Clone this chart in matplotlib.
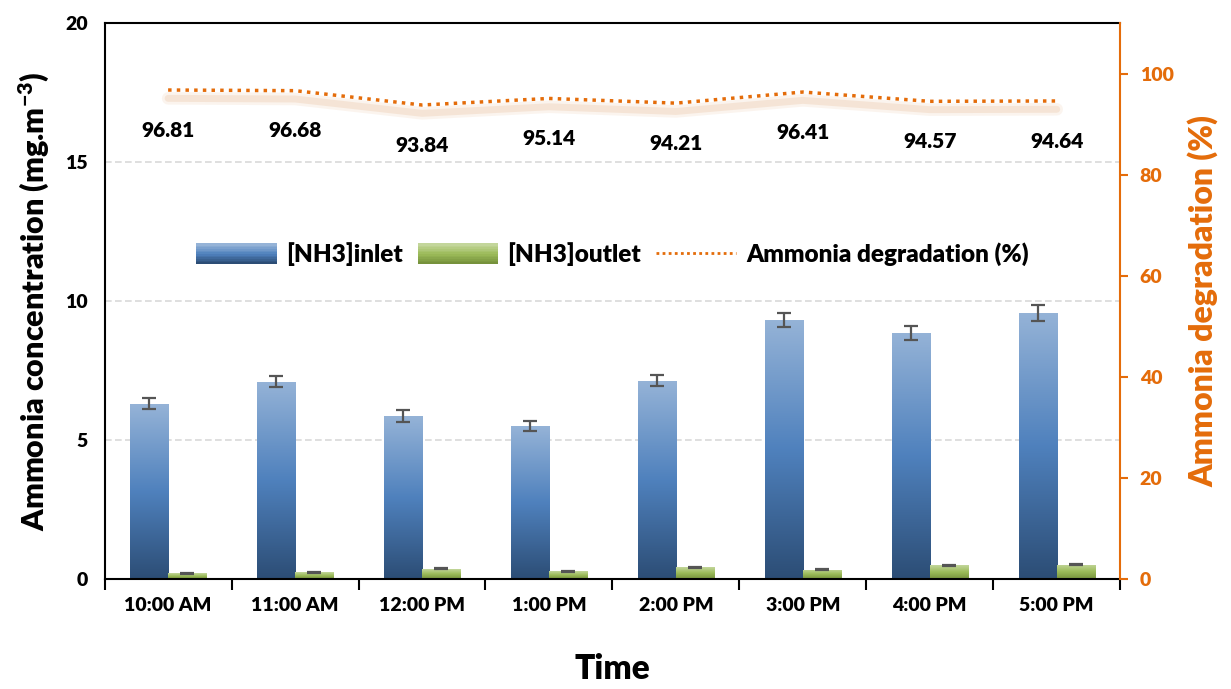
import numpy as np
import matplotlib.pyplot as plt
import matplotlib.transforms as mtransforms
from matplotlib.patches import Rectangle
from matplotlib.legend_handler import HandlerBase
from matplotlib.lines import Line2D
from matplotlib.colors import LinearSegmentedColormap

plt.rcParams['font.family'] = ['Lato', 'DejaVu Sans']
plt.rcParams['font.weight'] = 'heavy'
plt.rcParams['mathtext.fontset'] = 'custom'
plt.rcParams['mathtext.rm'] = 'Lato:heavy'
plt.rcParams['mathtext.bf'] = 'Lato:heavy'
plt.rcParams['mathtext.default'] = 'bf'

times = ['10:00 AM', '11:00 AM', '12:00 PM', '1:00 PM', '2:00 PM', '3:00 PM', '4:00 PM', '5:00 PM']
inlet = [6.30, 7.10, 5.86, 5.50, 7.13, 9.32, 8.86, 9.58]
inlet_err = [0.20, 0.20, 0.20, 0.18, 0.20, 0.25, 0.25, 0.28]
outlet = [0.20, 0.24, 0.36, 0.27, 0.41, 0.33, 0.48, 0.51]
outlet_err = [0.02, 0.02, 0.02, 0.02, 0.02, 0.02, 0.03, 0.03]
degradation = [96.81, 96.68, 93.84, 95.14, 94.21, 96.41, 94.57, 94.64]

ORANGE = '#E46C0A'
W = 'heavy'
blue_cmap = LinearSegmentedColormap.from_list('b', ['#2C4D75', '#4F81BD', '#95B3D7'])
green_cmap = LinearSegmentedColormap.from_list('g', ['#76923C', '#9BBB59', '#C3D69B'])


def gradient_bars(ax, bars, cmap):
    grad = np.linspace(0, 1, 256).reshape(-1, 1)
    for b in bars:
        x0, y0 = b.get_x(), b.get_y()
        w, h = b.get_width(), b.get_height()
        im = ax.imshow(grad, cmap=cmap, origin='lower', aspect='auto',
                       extent=[x0, x0 + w, y0, y0 + h], zorder=2)
        im.set_clip_path(b)
        b.set_facecolor('none')


class GradientHandler(HandlerBase):
    def __init__(self, cmap):
        super().__init__()
        self.cmap = cmap

    def create_artists(self, legend, orig_handle, xdescent, ydescent, width, height, fontsize, trans):
        n = 12
        arts = []
        for i in range(n):
            r = Rectangle((-xdescent, -ydescent + height * i / n), width, height / n + 0.3,
                          facecolor=self.cmap(i / (n - 1)), edgecolor='none', transform=trans)
            arts.append(r)
        return arts


fig = plt.figure(figsize=(12.31, 6.89), dpi=100)
ax = fig.add_axes([0.085, 0.16, 0.825, 0.806])
ax2 = ax.twinx()

x = np.arange(len(times))
w = 0.3
b1 = ax.bar(x - w / 2, inlet, w, color='#4F81BD', zorder=2)
b2 = ax.bar(x + w / 2, outlet, w, color='#9BBB59', zorder=2)
gradient_bars(ax, b1, blue_cmap)
gradient_bars(ax, b2, green_cmap)
ax.errorbar(x - w / 2, inlet, yerr=inlet_err, fmt='none', ecolor='#555555',
            elinewidth=1.6, capsize=5, capthick=1.6, zorder=3)
ax.errorbar(x + w / 2, outlet, yerr=outlet_err, fmt='none', ecolor='#555555',
            elinewidth=1.6, capsize=5, capthick=1.6, zorder=3)

ax.set_xlim(-0.5, len(times) - 0.5)
ax.set_ylim(0, 20)
ax.set_yticks([0, 5, 10, 15, 20])
for g in [5, 10, 15]:
    ax.axhline(g, color='#D9D9D9', lw=1.2, ls=(0, (4, 2)), zorder=1)
ax.set_xticks(x)
ax.set_xticklabels(times, fontsize=14, fontweight=W)
ax.set_xticks(np.arange(-0.5, len(times)), minor=True)
ax.tick_params(axis='x', which='major', length=0, pad=13)
ax.tick_params(axis='x', which='minor', length=8, width=1.5, direction='out')
ax.tick_params(axis='y', length=0, labelsize=14, pad=12)
for lab in ax.get_yticklabels():
    lab.set_fontweight(W)
for s in ['left', 'bottom', 'top']:
    ax.spines[s].set_linewidth(1.5)
ax.spines['right'].set_visible(False)
ax.set_ylabel('Ammonia concentration (mg.m$^{-3}$)', fontsize=22, fontweight=W, labelpad=10)
ax.set_xlabel('Time', fontsize=24, fontweight=W, labelpad=28)

# soft shadow under the degradation line
for lw_s, a_s in [(9, 0.12), (5, 0.2)]:
    shadow = mtransforms.offset_copy(ax2.transData, fig=fig, x=0, y=-6, units='points')
    ax2.plot(x, degradation, color='#E0A878', lw=lw_s, alpha=a_s, solid_capstyle='round',
             transform=shadow, zorder=3)
line, = ax2.plot(x, degradation, color=ORANGE, lw=2.5, ls=(0, (1, 1.5)), zorder=4)
for xi, v in zip(x, degradation):
    ax2.annotate(f'{v:.2f}', (xi, v), xytext=(0, -29), textcoords='offset points',
                 ha='center', va='center', fontsize=15, fontweight=W)
ax2.set_ylim(0, 110)
ax2.set_yticks([0, 20, 40, 60, 80, 100])
ax2.tick_params(axis='y', colors=ORANGE, length=6, width=1.5, labelsize=14, pad=8)
for lab in ax2.get_yticklabels():
    lab.set_fontweight(W)
ax2.spines['right'].set_color(ORANGE)
ax2.spines['right'].set_linewidth(1.5)
for s in ['left', 'bottom', 'top']:
    ax2.spines[s].set_visible(False)
ax2.set_ylabel('Ammonia degradation (%)', fontsize=23, fontweight=W, color=ORANGE, labelpad=10)

leg_line = Line2D([], [], color=ORANGE, lw=2, ls=(0, (1, 1.2)))
ax2.legend([b1, b2, leg_line], ['[NH3]inlet', '[NH3]outlet', 'Ammonia degradation (%)'],
           handler_map={b1: GradientHandler(blue_cmap), b2: GradientHandler(green_cmap)},
           loc='center', bbox_to_anchor=(0.5, 0.584), ncol=3, frameon=False,
           prop={'size': 17.5, 'weight': W}, handlelength=3.3, handleheight=0.9,
           columnspacing=0.6, handletextpad=0.4)

fig.savefig('out.png', dpi=100)
